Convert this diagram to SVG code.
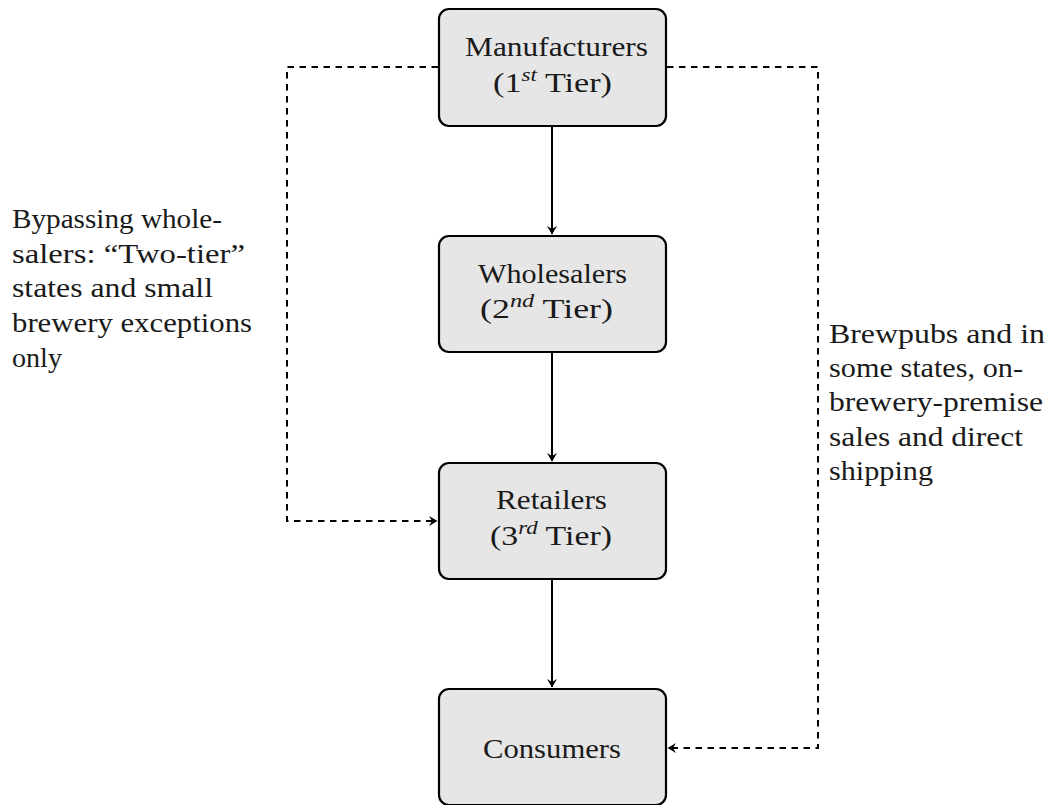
<svg xmlns="http://www.w3.org/2000/svg" width="1050" height="805" viewBox="0 0 1050 805">
<style>
.box{fill:#e6e6e6;stroke:#000;stroke-width:2.2}
.t{font-family:'Liberation Serif',serif;font-size:28px;fill:#1a1a1a}
.lbl{font-family:'Liberation Serif',serif;font-size:27px;fill:#1a1a1a}
.sup{font-style:italic;font-size:19px}
.solid{stroke:#000;stroke-width:2;fill:none}
.dash{stroke:#000;stroke-width:2;fill:none;stroke-dasharray:6.5,5.5}
</style>
<defs>
<marker id="ah" markerWidth="14" markerHeight="14" refX="0" refY="0" viewBox="-10 -7 14 14" markerUnits="userSpaceOnUse" orient="auto">
<path d="M0.5,0 L-8,-5 L-5,0 L-8,5 Z" fill="#000"/>
</marker>
</defs>
<rect width="1050" height="805" fill="#fff"/>
<g id="connectors">
<line class="solid" x1="552" y1="127" x2="552" y2="234" marker-end="url(#ah)"/>
<line class="solid" x1="552" y1="353" x2="552" y2="461" marker-end="url(#ah)"/>
<line class="solid" x1="552" y1="580" x2="552" y2="687" marker-end="url(#ah)"/>
<polyline class="dash" points="438,67 287,67 287,521 437,521" marker-end="url(#ah)"/>
<polyline class="dash" points="667,67 818,67 818,748 668,748" marker-end="url(#ah)"/>
</g>
<g id="manufacturers">
<rect class="box" x="439" y="9" width="227" height="117" rx="10"/>
<text class="t" x="465" y="56" textLength="183" lengthAdjust="spacingAndGlyphs">Manufacturers</text>
<text class="t" x="493" y="92" textLength="119" lengthAdjust="spacingAndGlyphs">(1<tspan class="sup" dy="-11">st</tspan><tspan dy="11"> Tier)</tspan></text>
</g>
<g id="wholesalers">
<rect class="box" x="439" y="236" width="227" height="116" rx="10"/>
<text class="t" x="478" y="283" textLength="149" lengthAdjust="spacingAndGlyphs">Wholesalers</text>
<text class="t" x="480" y="318" textLength="133" lengthAdjust="spacingAndGlyphs">(2<tspan class="sup" dy="-11">nd</tspan><tspan dy="11"> Tier)</tspan></text>
</g>
<g id="retailers">
<rect class="box" x="439" y="463" width="227" height="116" rx="10"/>
<text class="t" x="496" y="509" textLength="111" lengthAdjust="spacingAndGlyphs">Retailers</text>
<text class="t" x="490" y="545" textLength="122" lengthAdjust="spacingAndGlyphs">(3<tspan class="sup" dy="-11">rd</tspan><tspan dy="11"> Tier)</tspan></text>
</g>
<g id="consumers">
<rect class="box" x="439" y="689" width="227" height="116" rx="10"/>
<text class="t" x="483" y="758" textLength="138" lengthAdjust="spacingAndGlyphs">Consumers</text>
</g>
<g id="label-left">
<text class="lbl" x="12" y="228" textLength="210" lengthAdjust="spacingAndGlyphs">Bypassing whole-</text>
<text class="lbl" x="12" y="263" textLength="233" lengthAdjust="spacingAndGlyphs">salers: “Two-tier”</text>
<text class="lbl" x="12" y="297" textLength="201" lengthAdjust="spacingAndGlyphs">states and small</text>
<text class="lbl" x="12" y="332" textLength="240" lengthAdjust="spacingAndGlyphs">brewery exceptions</text>
<text class="lbl" x="12" y="367" textLength="50" lengthAdjust="spacingAndGlyphs">only</text>
</g>
<g id="label-right">
<text class="lbl" x="829" y="343" textLength="216" lengthAdjust="spacingAndGlyphs">Brewpubs and in</text>
<text class="lbl" x="829" y="377" textLength="194" lengthAdjust="spacingAndGlyphs">some states, on-</text>
<text class="lbl" x="829" y="411" textLength="214" lengthAdjust="spacingAndGlyphs">brewery-premise</text>
<text class="lbl" x="829" y="446" textLength="194" lengthAdjust="spacingAndGlyphs">sales and direct</text>
<text class="lbl" x="829" y="480" textLength="104" lengthAdjust="spacingAndGlyphs">shipping</text>
</g>
</svg>
